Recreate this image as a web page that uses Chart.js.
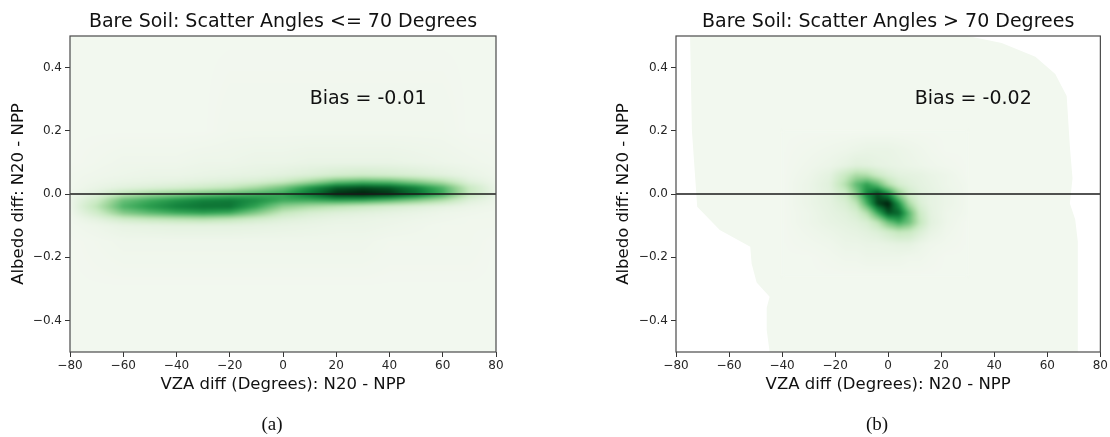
<!DOCTYPE html>
<html><head><meta charset="utf-8">
<script src="https://cdn.jsdelivr.net/npm/chart.js@4.4.1/dist/chart.umd.min.js"></script>
<style>
html,body{margin:0;padding:0;background:#fff;}
#wrap{position:relative;width:1110px;height:437px;overflow:hidden;}
.panel{position:absolute;top:0;width:555px;height:437px;}
.cap{position:absolute;top:413px;font-family:"Liberation Serif","DejaVu Serif",serif;font-size:19px;color:#111;transform:translateX(-50%);white-space:nowrap;}
</style></head><body>
<div id="wrap">
<div class="panel" style="left:0"><canvas id="c1" width="555" height="437"></canvas></div>
<div class="panel" style="left:555px"><canvas id="c2" width="555" height="437"></canvas></div>
<div class="cap" style="left:272px">(a)</div>
<div class="cap" style="left:877px">(b)</div>
</div>
<script>
// ---------- text ----------
const titles = ['Bare Soil: Scatter Angles <= 70 Degrees', 'Bare Soil: Scatter Angles > 70 Degrees'];
const biasLabels = ['Bias = -0.01', 'Bias = -0.02'];
const xAxisLabel = 'VZA diff (Degrees): N20 - NPP';
const yAxisLabel = 'Albedo diff: N20 - NPP';
const xTicks = [-80, -60, -40, -20, 0, 20, 40, 60, 80];
const yTicks = [0.4, 0.2, 0.0, -0.2, -0.4];

// ---------- reference line (y = 0) ----------
const zeroLineX = [-80, 80];
const zeroLineY = [0, 0];

// ---------- panel (a): density grid (percent of peak) ----------
const kdeX1 = [-80, -70, -60, -50, -40, -30, -20, -10, 0, 10, 20, 30, 40, 50, 60, 70, 80];
const kdeY1 = [0.5, 0.2, 0.1, 0.06, 0.04, 0.02, 0.0, -0.02, -0.04, -0.06, -0.08, -0.1, -0.15, -0.3, -0.5];
const kdeZ1 = [
  [2,2,2,2,2,2,2,2,2,2,2,2,2,2,2,2,2],
  [2,2,2,2,2,2,3,3,3,3,3,3,3,3,3,2,2],
  [2,3,4,4,4,5,5,6,6,7,7,7,7,6,5,4,3],
  [3,4,5,6,6,7,8,9,11,14,18,20,18,15,11,7,4],
  [3,5,7,8,9,11,13,16,22,35,50,55,52,42,30,12,5],
  [3,7,11,14,17,21,26,36,50,70,86,90,87,76,58,24,6],
  [4,12,28,38,44,50,55,60,64,80,96,99,95,83,62,26,7],
  [5,22,52,62,70,76,78,72,62,62,66,64,56,45,32,13,5],
  [5,28,58,68,76,80,80,64,42,34,28,22,17,13,9,6,4],
  [4,20,45,55,62,66,62,45,25,17,13,11,9,7,5,4,3],
  [3,10,20,25,28,30,26,19,13,10,8,7,6,5,4,3,3],
  [3,5,8,9,10,10,10,9,8,7,6,6,5,4,3,3,3],
  [2,3,4,4,4,4,4,4,4,4,4,4,3,3,3,3,2],
  [2,2,2,2,2,2,2,2,2,2,2,2,2,2,2,2,2],
  [2,2,2,2,2,2,2,2,2,2,2,2,2,2,2,2,2]
];
// support (lowest shaded level) outline, panel (a)
const supportX1 = [-80, 80, 80, -80, -80];
const supportY1 = [0.5, 0.5, -0.5, -0.5, 0.5];

// ---------- panel (b): density grid (percent of peak) ----------
const kdeX2 = [-40, -30, -22, -16, -12, -8, -4, 0, 4, 8, 12, 16, 22, 30];
const kdeY2 = [0.2, 0.14, 0.09, 0.06, 0.03, 0.0, -0.03, -0.06, -0.09, -0.12, -0.16, -0.2, -0.26];
const kdeZ2 = [
  [2,2,2,2,2,2,2,2,2,2,2,2,2,2],
  [2,3,4,5,6,7,7,7,6,5,4,3,2,2],
  [2,4,6,9,12,11,9,8,7,6,5,4,3,2],
  [2,5,10,24,34,32,22,15,11,10,9,7,5,2],
  [2,6,12,32,54,66,54,32,18,13,10,8,5,3],
  [2,6,11,22,44,74,90,74,42,20,12,9,6,3],
  [2,6,10,16,28,60,92,99,70,34,15,9,6,3],
  [2,5,9,12,17,32,62,88,84,54,22,10,5,3],
  [2,5,8,10,12,16,28,50,62,50,26,11,5,2],
  [2,4,6,8,9,11,14,20,26,24,15,8,4,2],
  [2,3,4,6,6,7,7,8,9,9,6,4,3,2],
  [2,2,3,4,4,5,5,5,5,4,4,3,2,2],
  [2,2,2,2,2,2,2,2,2,2,2,2,2,2]
];
// support (lowest shaded level) outline, panel (b)
const supportX2 = [-74.7, 30, 42.8, 55.5, 63, 67.3, 68.5, 69.5, 68.5, 70.5, 71.5, 71.5, -44.7, -45.8, -45.8, -44.7, -49.6, -51.5, -52, -63.5, -72, -74, -74.7];
const supportY2 = [0.5, 0.5, 0.478, 0.434, 0.38, 0.31, 0.15, 0.05, -0.03, -0.08, -0.15, -0.5, -0.5, -0.43, -0.36, -0.325, -0.28, -0.22, -0.167, -0.114, -0.04, 0.2, 0.5];

// ---------- styling ----------
const FONT = "'DejaVu Sans', sans-serif";
const cmapStops = [[0,[246,249,243]],[10,[228,242,224]],[25,[199,233,192]],[40,[152,211,150]],[55,[92,186,112]],[65,[48,162,82]],[75,[20,132,62]],[85,[7,98,42]],[93,[3,58,24]],[100,[0,22,9]]];
function cmap(v){
  if (v <= cmapStops[0][0]) return cmapStops[0][1];
  for (let i = 0; i < cmapStops.length - 1; i++){
    const [a, ca] = cmapStops[i], [b, cb] = cmapStops[i+1];
    if (v <= b){ const f = (v-a)/(b-a); return [0,1,2].map(k => Math.round(ca[k] + f*(cb[k]-ca[k]))); }
  }
  return cmapStops[cmapStops.length-1][1];
}
const baseLevel = 2;
const baseColor = 'rgb(' + cmap(baseLevel).join(',') + ')';

function locate(arr, v){
  for (let i = 0; i < arr.length - 1; i++){
    const a = arr[i], b = arr[i+1];
    if (v >= Math.min(a,b) && v <= Math.max(a,b)) return [i, (v-a)/(b-a)];
  }
  return null;
}
function minus(s){ return s.replace('-', '\u2212'); }

const kdePlugin = {
  id: 'kde',
  afterDatasetDraw(chart, args, opts){
    if (args.index !== 0) return;
    const area = chart.chartArea, sx = chart.scales.x, sy = chart.scales.y;
    const w = Math.round(area.right - area.left), h = Math.round(area.bottom - area.top);
    const off = document.createElement('canvas'); off.width = w; off.height = h;
    const octx = off.getContext('2d');
    const img = octx.createImageData(w, h);
    const cols = [];
    for (let i = 0; i < w; i++) cols.push(locate(opts.xs, sx.getValueForPixel(area.left + i + 0.5)));
    for (let j = 0; j < h; j++){
      const r = locate(opts.ys, sy.getValueForPixel(area.top + j + 0.5));
      if (!r) continue;
      const [ri, rf] = r;
      for (let i = 0; i < w; i++){
        const c = cols[i]; if (!c) continue;
        const [ci, cf] = c;
        const z = opts.z;
        const v = (1-rf)*((1-cf)*z[ri][ci] + cf*z[ri][ci+1]) + rf*((1-cf)*z[ri+1][ci] + cf*z[ri+1][ci+1]);
        const col = cmap(v);
        const p = (j*w + i)*4;
        img.data[p] = col[0]; img.data[p+1] = col[1]; img.data[p+2] = col[2]; img.data[p+3] = 255;
      }
    }
    octx.putImageData(img, 0, 0);
    const ctx = chart.ctx;
    ctx.save();
    ctx.beginPath(); ctx.rect(area.left, area.top, w, h); ctx.clip();
    ctx.filter = 'blur(1.8px)';
    ctx.drawImage(off, area.left, area.top);
    ctx.restore();
  },
  afterDatasetsDraw(chart, args, opts){
    const area = chart.chartArea, ctx = chart.ctx;
    ctx.save();
    ctx.strokeStyle = '#4a4a4a'; ctx.lineWidth = 1.2;
    ctx.strokeRect(area.left, area.top, area.right - area.left, area.bottom - area.top);
    ctx.fillStyle = '#111';
    ctx.font = '19px ' + FONT;
    ctx.textAlign = 'left'; ctx.textBaseline = 'middle';
    ctx.fillText(opts.bias, chart.scales.x.getPixelForValue(10), chart.scales.y.getPixelForValue(0.3));
    ctx.restore();
  }
};

function makeChart(id, k, xs, ys, z, supX, supY, yAxisWidth, yTitlePad, rightPad){
  const support = supX.map((x, i) => ({x, y: supY[i]}));
  const zero = zeroLineX.map((x, i) => ({x, y: zeroLineY[i]}));
  return new Chart(document.getElementById(id), {
    type: 'line',
    data: { datasets: [
      { data: support, fill: 'shape', backgroundColor: baseColor, borderWidth: 0, pointRadius: 0, tension: 0, order: 2 },
      { data: zero, fill: false, borderColor: '#1a1a1a', borderWidth: 1.4, pointRadius: 0, tension: 0, order: 1 }
    ]},
    options: {
      responsive: false, animation: false, devicePixelRatio: 1,
      layout: { padding: { left: 0, right: rightPad, top: 0, bottom: 0 } },
      plugins: {
        legend: { display: false }, tooltip: { enabled: false },
        title: { display: true, text: titles[k], fullSize: false, color: '#111',
          font: { family: FONT, size: 19, weight: 'normal' }, padding: { top: 10.6, bottom: 2.6 } },
        kde: { xs, ys, z, bias: biasLabels[k] }
      },
      scales: {
        x: {
          type: 'linear', min: -80, max: 80, position: 'bottom',
          afterBuildTicks: s => { s.ticks = xTicks.map(v => ({ value: v })); },
          afterFit: s => { s.height = 85; },
          ticks: { callback: v => minus(String(v)), font: { family: FONT, size: 12 }, color: '#262626', padding: 2, maxRotation: 0, autoSkip: false },
          grid: { drawOnChartArea: false, drawTicks: true, tickLength: 5, tickColor: '#333', tickWidth: 1 },
          border: { display: false },
          title: { display: true, text: xAxisLabel, color: '#111', font: { family: FONT, size: 16.5 }, padding: { top: 0, bottom: 42 } }
        },
        y: {
          type: 'linear', min: -0.5, max: 0.5, position: 'left',
          afterBuildTicks: s => { s.ticks = yTicks.map(v => ({ value: v })); },
          afterFit: s => { s.width = yAxisWidth; },
          ticks: { callback: v => minus(v.toFixed(1)), font: { family: FONT, size: 12 }, color: '#262626', padding: 3, autoSkip: false },
          grid: { drawOnChartArea: false, drawTicks: true, tickLength: 5, tickColor: '#333', tickWidth: 1 },
          border: { display: false },
          title: { display: true, text: yAxisLabel, color: '#111', font: { family: FONT, size: 16.5 }, padding: { top: yTitlePad, bottom: 0 } }
        }
      }
    },
    plugins: [kdePlugin]
  });
}

makeChart('c1', 0, kdeX1, kdeY1, kdeZ1, supportX1, supportY1, 70, 9, 59);
makeChart('c2', 1, kdeX2, kdeY2, kdeZ2, supportX2, supportY2, 121, 59, 8);
</script>
</body></html>
